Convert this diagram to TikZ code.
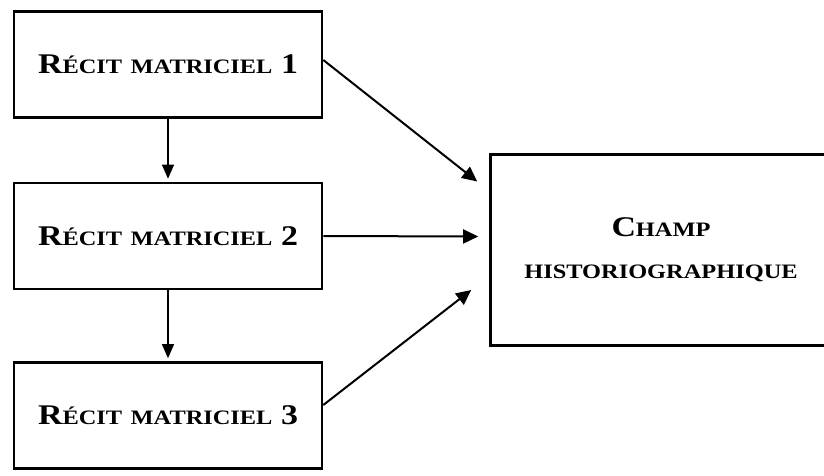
\documentclass[tikz,border=0pt]{standalone}
\usepackage{fontspec}
\setmainfont{Liberation Serif}[FakeStretch=1.19]
\usetikzlibrary{arrows.meta,calc}
\newcommand\BigL[1]{{\fontsize{28.5}{42}\selectfont #1}}
\newcommand\SmL[1]{{\fontsize{20.5}{42}\selectfont #1}}
\tikzset{
  box/.style={draw=black, line width=2.6pt, rectangle, inner sep=0pt, align=center, font=\bfseries\fontsize{20.5}{42}\selectfont},
  leftbox/.style={box, minimum width=308pt, minimum height=106pt},
  vlink/.style={line width=1.3pt, shorten >=3pt, -{Triangle[length=14pt,width=12pt]}},
  dlink/.style={line width=2pt, -{Triangle[length=15pt,width=14pt]}},
}
\begin{document}
\begin{tikzpicture}[x=1pt,y=1pt]
\useasboundingbox (0,0) rectangle (824,-475);
\node[leftbox] (b1) at (168,-64.5) {\BigL{R}\SmL{ÉCIT}\BigL{ }\SmL{MATRICIEL}\BigL{ 1}};
\node[leftbox] (b2) at (168,-236) {\BigL{R}\SmL{ÉCIT}\BigL{ }\SmL{MATRICIEL}\BigL{ 2}};
\node[leftbox] (b3) at (168,-415.5) {\BigL{R}\SmL{ÉCIT}\BigL{ }\SmL{MATRICIEL}\BigL{ 3}};
\node[box, minimum width=341pt, minimum height=190.5pt] (ch) at (661,-250)
  {\BigL{C}\SmL{HAMP}\\\SmL{HISTORIOGRAPHIQUE}};
\coordinate (e1) at ($(ch.west)+(-12,68.5)$);
\coordinate (e2) at ($(ch.west)+(-11,13.5)$);
\coordinate (e3) at ($(ch.west)+(-18,-40)$);
\draw[vlink] (b1.south) -- (b2.north);
\draw[vlink] (b2.south) -- (b3.north);
\draw[dlink] ($(b1.east)+(0,4.5)$) -- (e1);
\draw[dlink] (b2.east) -- (e2);
\draw[dlink] ($(b3.east)+(0,10.5)$) -- (e3);
\end{tikzpicture}
\end{document}
